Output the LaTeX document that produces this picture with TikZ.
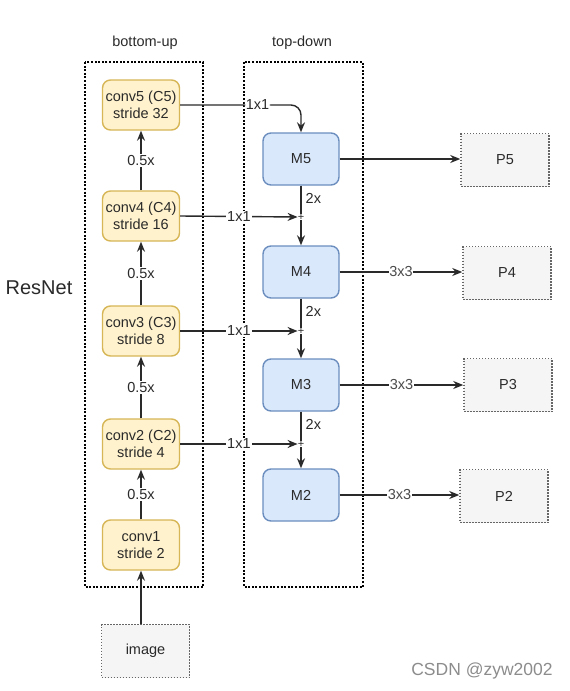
\documentclass[tikz,border=0pt]{standalone}
\usepackage{fontspec}
\setmainfont{Liberation Sans}
\usetikzlibrary{arrows.meta}
\definecolor{yfill}{HTML}{FFF2CC}
\definecolor{ydraw}{HTML}{D6B656}
\definecolor{bfill}{HTML}{DAE8FC}
\definecolor{bdraw}{HTML}{6C8EBF}
\definecolor{gfill}{HTML}{F5F5F5}
\definecolor{gdraw}{HTML}{666666}
\definecolor{ink}{HTML}{2A2A2A}
\tikzset{
  txt/.style={font=\fontsize{14.5}{17}\selectfont, text=ink},
  ybox/.style={txt, draw=ydraw, fill=yfill, line width=1.4pt, rounded corners=8pt,
    minimum width=77pt, minimum height=50pt, inner sep=0pt, align=center},
  bbox/.style={txt, draw=bdraw, fill=bfill, line width=1.4pt, rounded corners=8pt,
    minimum width=76pt, minimum height=52pt, inner sep=0pt, align=center},
  gbox/.style={txt, draw=gdraw, fill=gfill, line width=1.5pt, dash pattern=on 1.5pt off 1.5pt,
    minimum width=88pt, minimum height=53pt, inner sep=0pt},
  frame/.style={draw=black, line width=2pt, dash pattern=on 2pt off 1.6pt},
  conn/.style={draw=ink, line width=1.4pt},
  arr/.style={conn, -{Stealth[length=10pt,width=8pt]}},
  lab/.style={txt, fill=white, inner sep=1pt},
  lab3/.style={txt, fill=white, inner sep=0.5pt, text=ink!85},
  plus/.style={font=\fontsize{11}{11}\selectfont, text=ink, inner sep=0pt},
}
\begin{document}
\begin{tikzpicture}[x=1pt,y=-1pt]
\useasboundingbox (0,0) rectangle (570,691);
% frames
\draw[frame] (85,62) rectangle (203,587);
\draw[frame] (244,62) rectangle (363,587);
\node[txt] (hbu) at (145,43) {bottom-up};
\node[txt] (htd) at (302,43) {top-down};
\node[txt, font=\fontsize{20}{22}\selectfont] (resnet) at (39,288) {ResNet};
% bottom-up
\node[ybox] (c5) at (141,105) {conv5 (C5)\\stride 32};
\node[ybox] (c4) at (141,216) {conv4 (C4)\\stride 16};
\node[ybox] (c3) at (141,331) {conv3 (C3)\\stride 8};
\node[ybox] (c2) at (141,444) {conv2 (C2)\\stride 4};
\node[ybox] (c1) at (141,545) {conv1\\stride 2};
\node[gbox] (img) at (145.5,651) {image};
% top-down
\node[bbox] (m5) at (301,159) {M5};
\node[bbox] (m4) at (301,272) {M4};
\node[bbox] (m3) at (301,385) {M3};
\node[bbox] (m2) at (301,495) {M2};
\node[plus] (p4) at (301,217) {+};
\node[plus] (p3) at (301,331) {+};
\node[plus] (p2) at (301,444) {+};
% outputs
\node[gbox] (q5) at (505,160) {P5};
\node[gbox] (q4) at (507,273) {P4};
\node[gbox] (q3) at (508,385) {P3};
\node[gbox] (q2) at (504,496) {P2};
% bottom-up arrows
\draw[arr] (img.north -| c1.south) -- (c1.south);
\draw[arr] (c1.north) -- node[lab]{0.5x} (c2.south);
\draw[arr] (c2.north) -- node[lab]{0.5x} (c3.south);
\draw[arr] (c3.north) -- node[lab]{0.5x} (c4.south);
\draw[arr] (c4.north) -- node[lab]{0.5x} (c5.south);
% lateral
\draw[arr, rounded corners=10pt] (c5.east) -| node[lab, pos=0.32]{1x1} (m5.north);
\draw[arr] (c4.east) -- node[lab]{1x1} (p4.west);
\draw[arr] (c3.east) -- node[lab]{1x1} (p3.west);
\draw[arr] (c2.east) -- node[lab]{1x1} (p2.west);
% top-down
\draw[conn] (m5.south) -- node[txt, right, inner sep=4pt, pos=0.45]{2x} (p4.north);
\draw[arr] (p4.south) -- (m4.north);
\draw[conn] (m4.south) -- node[txt, right, inner sep=4pt, pos=0.45]{2x} (p3.north);
\draw[arr] (p3.south) -- (m3.north);
\draw[conn] (m3.south) -- node[txt, right, inner sep=4pt, pos=0.45]{2x} (p2.north);
\draw[arr] (p2.south) -- (m2.north);
% outputs
\draw[arr] (m5.east) -- (m5.east -| q5.west);
\draw[arr] (m4.east) -- node[lab3]{3x3} (m4.east -| q4.west);
\draw[arr] (m3.east) -- node[lab3]{3x3} (m3.east -| q3.west);
\draw[arr] (m2.east) -- node[lab3]{3x3} (m2.east -| q2.west);
% watermark
\node[font=\fontsize{17.5}{17.5}\selectfont, text=black!45] (wm) at (482,671) {CSDN @zyw2002};
\end{tikzpicture}
\end{document}
